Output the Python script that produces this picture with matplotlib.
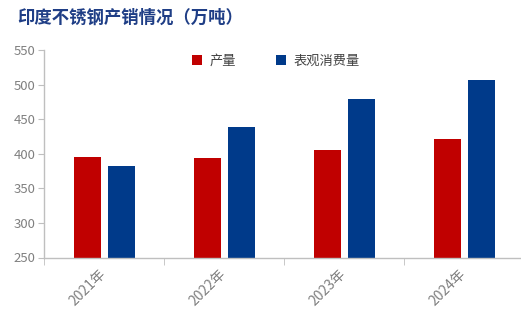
import numpy as np
import matplotlib
matplotlib.use("Agg")
from matplotlib import pyplot as plt

plt.rcParams['font.family'] = ['Noto Sans CJK SC', 'DejaVu Sans']

years = ["2021年", "2022年", "2023年", "2024年"]
production = [396, 394, 405, 421]
consumption = [382, 439, 479, 506]
series_names = ["产量", "表观消费量"]
y_ticks = [250, 300, 350, 400, 450, 500, 550]

red = "#C00000"
blue = "#003A8A"
grey = "#808080"
axis_grey = "#BFBFBF"

fig = plt.figure(figsize=(5.21, 3.17), dpi=100)
ax = fig.add_axes([44 / 521, 1 - 257.5 / 317, 480 / 521, 207.5 / 317])

x = np.arange(len(years))
w = 0.225
ax.bar(x - 0.1375, production, width=w, color=red, label=series_names[0], zorder=2)
ax.bar(x + 0.1417, consumption, width=w, color=blue, label=series_names[1], zorder=2)

ax.set_xlim(-0.5, len(years) - 0.5)
ax.set_ylim(250, 550)
ax.set_yticks(y_ticks)
ax.set_yticklabels([str(v) for v in y_ticks])

ax.set_xticks(x)
ax.set_xticklabels(years, rotation=45, ha='right', va='center', rotation_mode='anchor')
ax.set_xticks(np.arange(len(years) + 1) - 0.5, minor=True)
ax.tick_params(axis='x', which='major', length=0, pad=10, labelsize=10, labelcolor=grey)
ax.tick_params(axis='x', which='minor', length=5, color=axis_grey, direction='out')
ax.tick_params(axis='y', length=4, color=axis_grey, labelsize=9.5, labelcolor=grey, pad=2)

for s in ['top', 'right']:
    ax.spines[s].set_visible(False)
for s in ['left', 'bottom']:
    ax.spines[s].set_color(axis_grey)
    ax.spines[s].set_linewidth(1)

leg = ax.legend(loc='upper left', bbox_to_anchor=(0.284, 1.035), ncol=2, frameon=False,
                handlelength=0.75, handleheight=0.75, handletextpad=0.6,
                columnspacing=3.0, fontsize=9.5)
for t in leg.get_texts():
    t.set_color("#404040")

fig.text(17 / 521, 1 - 18 / 317, "印度不锈钢产销情况（万吨）", fontsize=12.5,
         fontweight='bold', color="#1F3E86", ha='left', va='center')

fig.savefig("out.png", dpi=100)
